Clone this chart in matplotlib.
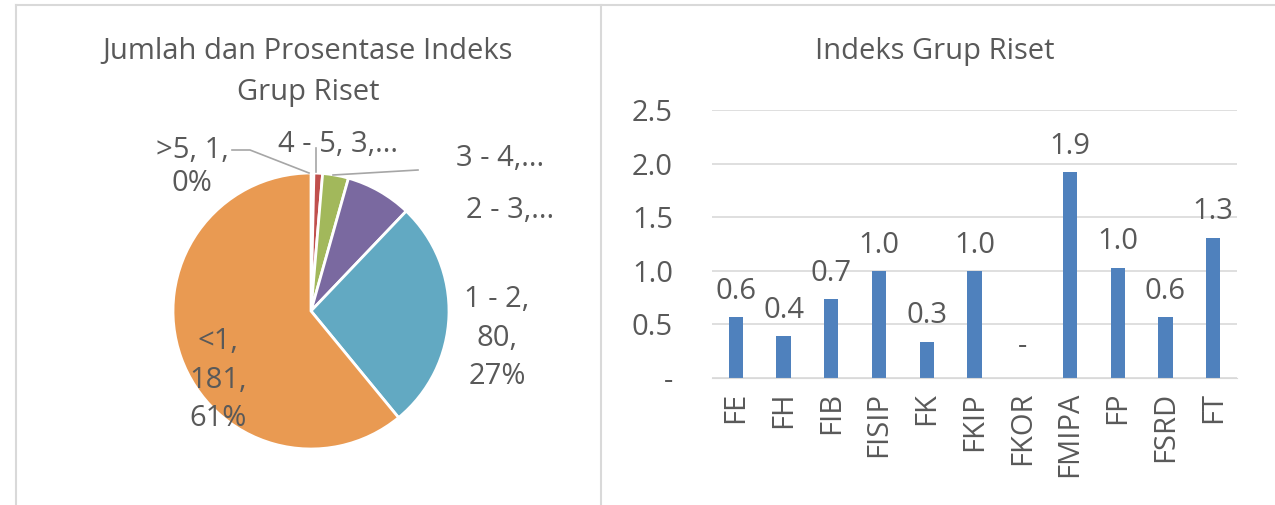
import matplotlib
matplotlib.use('Agg')
import matplotlib.pyplot as plt
from matplotlib.lines import Line2D

plt.rcParams['font.family'] = ['Open Sans', 'DejaVu Sans']

# Pie data (count of research groups per index range)
pie_labels = ['<1', '1 - 2', '2 - 3', '3 - 4', '4 - 5', '>5']
pie_counts = [181, 80, 23, 9, 3, 1]
pie_colors = ['#E99A52', '#62A9C2', '#7A69A0', '#A2B85B', '#C0504D', '#4F81BD']
pie_texts = ['<1,\n181,\n61%', '1 - 2,\n80,\n27%', '2 - 3,...', '3 - 4,...', '4 - 5, 3,...', '>5, 1,\n0%']

# Bar data (index per faculty)
faculties = ['FE', 'FH', 'FIB', 'FISIP', 'FK', 'FKIP', 'FKOR', 'FMIPA', 'FP', 'FSRD', 'FT']
index_vals = [0.57, 0.39, 0.74, 1.0, 0.34, 1.0, 0.0, 1.92, 1.03, 0.57, 1.31]

txt = '#595959'
W, H = 1275, 505
fs = 21
fig = plt.figure(figsize=(W / 100, H / 100), dpi=100)

# chart frames
for xs, ys in [([16 / W, 16 / W], [0, 1 - 5 / H]),
               ([16 / W, 1], [1 - 5 / H, 1 - 5 / H]),
               ([601 / W, 601 / W], [0, 1 - 5 / H])]:
    fig.add_artist(Line2D(xs, ys, color='#D9D9D9', lw=1.5))

# ---- pie, axes in pixel-like units (y up) ----
ax1 = fig.add_axes([16 / W, 0, 584 / W, 500 / H])
cx, cy, r = 311, 505 - 311, 138
ax1.pie(pie_counts[::-1], colors=pie_colors[::-1], startangle=90, counterclock=False,
        center=(cx, cy), radius=r, frame=True,
        wedgeprops=dict(edgecolor='white', linewidth=2))
ax1.set_xlim(16, 600)
ax1.set_ylim(0, 500)
ax1.set_aspect('equal')
ax1.axis('off')

pos = {'<1': (218, 125, 1.45), '1 - 2': (497, 167, 1.45), '2 - 3': (510, 295, 1.2),
       '3 - 4': (500, 347, 1.2), '4 - 5': (338, 360, 1.2), '>5': (192, 338, 1.2)}
for lab, t in zip(pie_labels, pie_texts):
    x, y, ls = pos[lab]
    ax1.text(x, y, t, ha='center', va='center', fontsize=fs, color=txt, linespacing=ls)
# leader lines
ax1.plot([232, 250, 309], [355, 355, 332], color='#A6A6A6', lw=1.2)
ax1.plot([316, 316], [357, 333], color='#A6A6A6', lw=1.2)
ax1.plot([418, 333], [335, 330], color='#A6A6A6', lw=1.2)

fig.text(308 / W, 1 - 52 / H, 'Jumlah dan Prosentase Indeks', ha='center', va='center',
         fontsize=fs, color=txt)
fig.text(308 / W, 1 - 93 / H, 'Grup Riset', ha='center', va='center', fontsize=fs, color=txt)

# ---- bar chart ----
ax2 = fig.add_axes([712 / W, (H - 378) / H, 525 / W, 268 / H])
x = range(len(faculties))
bars = ax2.bar(x, index_vals, width=0.3, color='#4F81BD')
ax2.set_ylim(0, 2.5)
ax2.set_xlim(-0.5, len(faculties) - 0.5)
ax2.set_yticks([0, 0.5, 1.0, 1.5, 2.0, 2.5])
ax2.set_yticklabels(['-', '0.5', '1.0', '1.5', '2.0', '2.5'])
ax2.set_xticks(list(x))
ax2.set_xticklabels(faculties, rotation=90)
ax2.tick_params(axis='y', length=0, pad=28, labelsize=fs, labelcolor=txt)
ax2.tick_params(axis='x', length=0, pad=10, labelsize=fs, labelcolor=txt)
ax2.grid(axis='y', color='#D9D9D9', lw=1.2)
ax2.set_axisbelow(True)
for s in ['top', 'right', 'left']:
    ax2.spines[s].set_visible(False)
ax2.spines['bottom'].set_color('#D9D9D9')
for b, v in zip(bars, index_vals):
    lab = '-' if v == 0 else f'{v:.1f}'
    off = 12 if v == 0 else 8
    ax2.annotate(lab, (b.get_x() + b.get_width() / 2, v), xytext=(0, off),
                 textcoords='offset points', ha='center', va='bottom', fontsize=fs, color=txt)

fig.text(935 / W, 1 - 52 / H, 'Indeks Grup Riset', ha='center', va='center', fontsize=fs, color=txt)

fig.savefig('out.png', dpi=100)
